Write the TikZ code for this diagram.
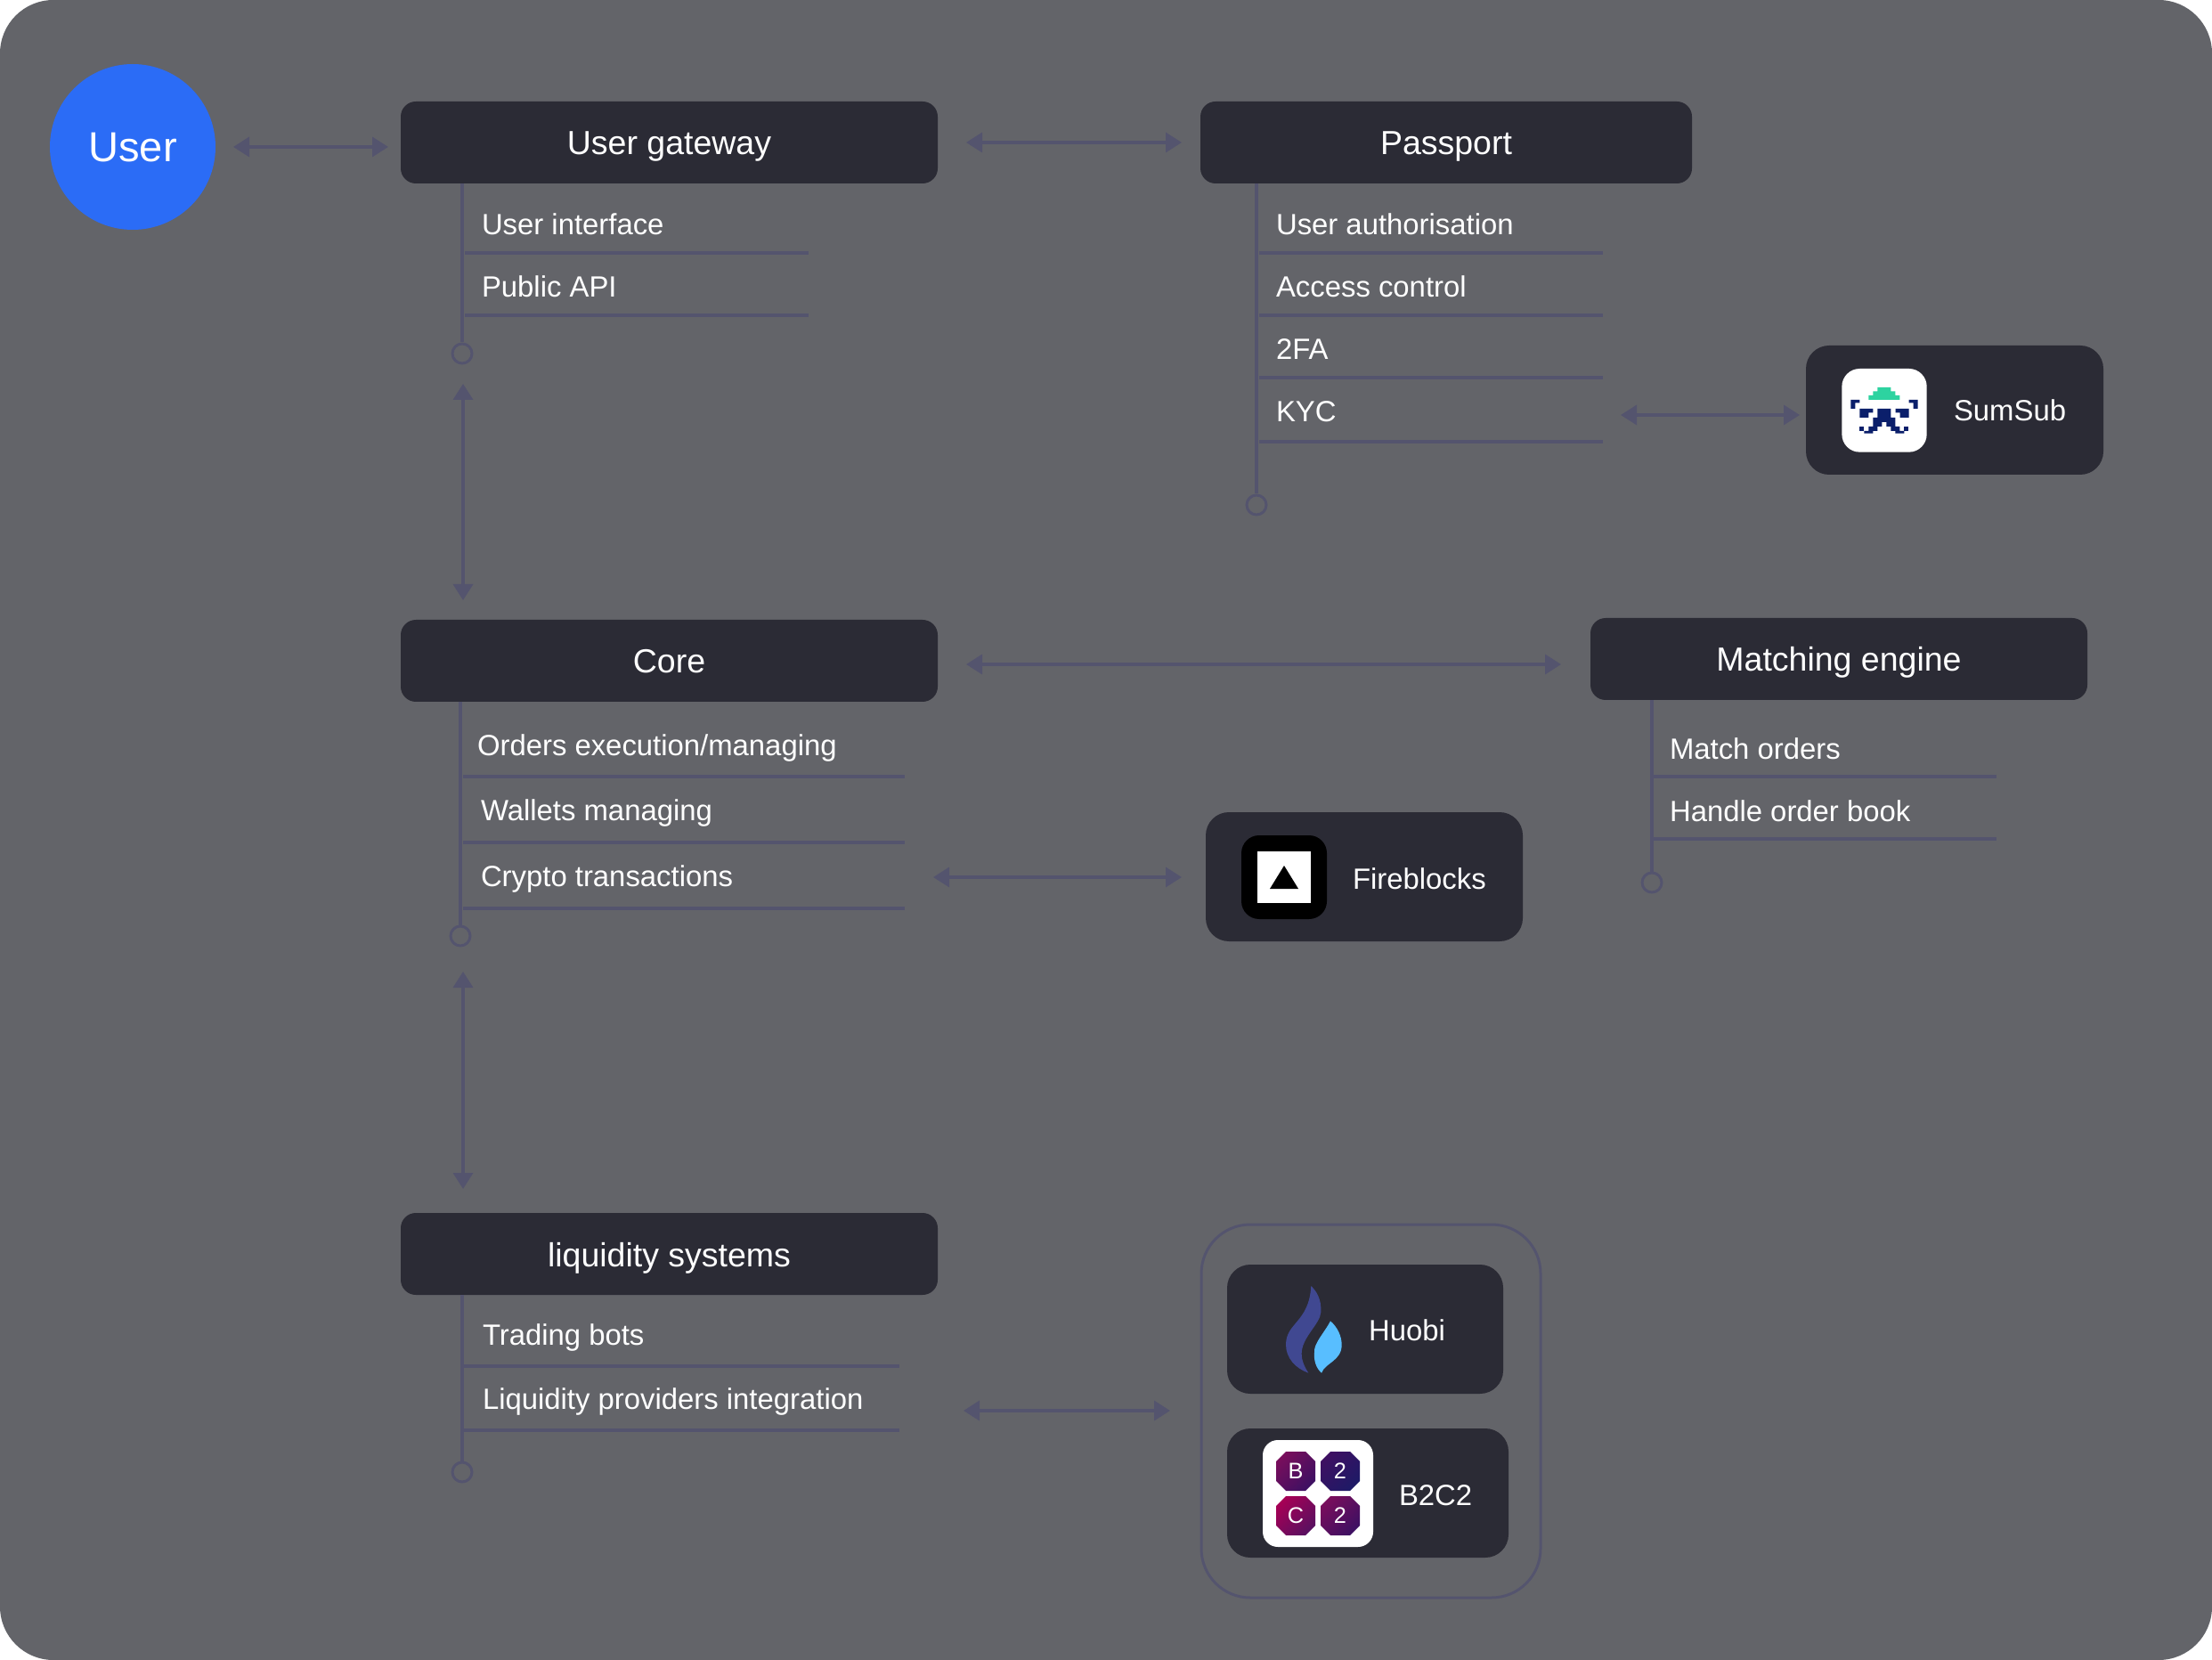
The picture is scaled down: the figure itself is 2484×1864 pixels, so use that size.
\documentclass[tikz,border=0pt]{standalone}
\usepackage{fontspec}
\setmainfont{Liberation Sans}
\usetikzlibrary{arrows.meta,calc,positioning}

\definecolor{canvasGrey}{HTML}{636469}
\definecolor{boxDark}{HTML}{2B2B35}
\definecolor{lineSlate}{HTML}{54546E}
\definecolor{userBlue}{HTML}{2B6CF6}
\definecolor{sumGreen}{HTML}{2DD3A0}
\definecolor{sumNavy}{HTML}{0B1F6B}
\definecolor{huobiDark}{HTML}{404891}
\definecolor{huobiLight}{HTML}{58BEFF}
\definecolor{tileRed}{HTML}{A50055}
\definecolor{tileMagenta}{HTML}{780E5C}
\definecolor{tilePlum}{HTML}{5A1060}
\definecolor{tileViolet}{HTML}{3E1062}
\definecolor{tileIndigo}{HTML}{1E1A66}

\begin{document}
\begin{tikzpicture}[x=0.1mm, y=-0.1mm, line cap=butt, line join=miter]
    \tikzset{
        titleBox/.style={rectangle, fill=boxDark, text=white, rounded corners=1.7mm, outer sep=0pt, inner sep=0pt,
            minimum height=9.2mm, text height=3.1mm, text depth=0.3mm, font=\fontsize{10.67pt}{12pt}\selectfont},
        logoBox/.style={rectangle, fill=boxDark, rounded corners=2.6mm, outer sep=0pt, inner sep=0pt, minimum height=14.5mm},
        groupBox/.style={rectangle, draw=lineSlate, line width=0.3mm, rounded corners=5.5mm, outer sep=0pt, inner sep=0pt},
        item/.style={anchor=base west, inner sep=0pt, outer sep=0pt, text=white, font=\fontsize{9.35pt}{11pt}\selectfont},
        userNode/.style={circle, fill=userBlue, text=white, minimum size=18.6mm, inner sep=0pt, outer sep=0pt,
            text height=3.3mm, text depth=0mm, font=\fontsize{13.4pt}{15pt}\selectfont},
        stemEnd/.style={circle, draw=lineSlate, line width=0.3mm, minimum size=2.2mm, inner sep=0pt},
        stem/.style={draw=lineSlate, line width=0.4mm},
        itemRule/.style={draw=lineSlate, line width=0.4mm},
        link/.style={draw=lineSlate, line width=0.35mm,
            {Triangle[length=1.8mm,width=2.2mm]}-{Triangle[length=1.8mm,width=2.2mm]}},
        tileText/.style={text=white, inner sep=0pt, font=\fontsize{7.2pt}{8pt}\selectfont}
    }

    \newcommand{\drawtile}[5]{%
        \shade[left color=#4, right color=#5, shading angle=45]
            (#1-11,#2-22) -- (#1+11,#2-22) -- (#1+22,#2-11) -- (#1+22,#2+11)
            -- (#1+11,#2+22) -- (#1-11,#2+22) -- (#1-22,#2+11) -- (#1-22,#2-11) -- cycle;
        \node[tileText] (tile#1#2) at (#1,#2) {#3};
    }

    % Canvas
    \fill[white] (0,0) rectangle (2484,1864);
    \useasboundingbox (0,0) rectangle (2484,1864);
    \fill[canvasGrey, rounded corners=6mm] (0,0) rectangle (2484,1864);

    % Main boxes
    \node[userNode] (user) at (149,165) {User};
    \node[titleBox, minimum width=60.3mm] (gateway) at (751.5,160) {User gateway};
    \node[titleBox, minimum width=55.2mm] (passport) at (1624,160) {Passport};
    \node[titleBox, minimum width=60.3mm] (core) at (751.5,742) {Core};
    \node[titleBox, minimum width=55.8mm] (matching) at (2065,740) {Matching engine};
    \node[titleBox, minimum width=60.3mm] (liquidity) at (751.5,1408) {liquidity systems};

    % Stem ends
    \node[stemEnd] (gatewayEnd) at (519,397) {};
    \node[stemEnd] (passportEnd) at (1411,567) {};
    \node[stemEnd] (coreEnd) at (517,1051) {};
    \node[stemEnd] (matchingEnd) at (1855,991) {};
    \node[stemEnd] (liquidityEnd) at (519,1653) {};

    % Stems
    \draw[stem] (gateway.south -| gatewayEnd.north) -- (gatewayEnd.north);
    \draw[stem] (passport.south -| passportEnd.north) -- (passportEnd.north);
    \draw[stem] (core.south -| coreEnd.north) -- (coreEnd.north);
    \draw[stem] (matching.south -| matchingEnd.north) -- (matchingEnd.north);
    \draw[stem] (liquidity.south -| liquidityEnd.north) -- (liquidityEnd.north);

    % Item lists
    \foreach \name/\txt/\base/\ruley in {itemUi/User interface/264/284, itemApi/Public API/334/354} {
        \node[item] (\name) at (541,\base) {\txt};
        \draw[itemRule] (522,\ruley) -- (908,\ruley);
    }
    \foreach \name/\txt/\base/\ruley in {itemAuth/User authorisation/264/284, itemAccess/Access control/334/354,
            itemTfa/2FA/404/424, itemKyc/KYC/474/496} {
        \node[item] (\name) at (1433,\base) {\txt};
        \draw[itemRule] (1414,\ruley) -- (1800,\ruley);
    }
    \foreach \name/\txt/\xpos/\base/\ruley in {itemOrders/Orders execution\slash managing/536/848/872,
            itemWallets/Wallets managing/540/921/946, itemCrypto/Crypto transactions/540/995/1020} {
        \node[item] (\name) at (\xpos,\base) {\txt};
        \draw[itemRule] (520,\ruley) -- (1016,\ruley);
    }
    \foreach \name/\txt/\base/\ruley in {itemMatch/Match orders/852/872, itemBook/Handle order book/922/942} {
        \node[item] (\name) at (1875,\base) {\txt};
        \draw[itemRule] (1857,\ruley) -- (2242,\ruley);
    }
    \foreach \name/\txt/\base/\ruley in {itemBots/Trading bots/1510/1534, itemLp/Liquidity providers integration/1582/1606} {
        \node[item] (\name) at (542,\base) {\txt};
        \draw[itemRule] (520,\ruley) -- (1010,\ruley);
    }

    % SumSub
    \node[logoBox, minimum width=33.4mm] (sumsub) at (2195,460.5) {};
    \begin{scope}[shift={(2000,370)}, scale=1/3]
        \fill[white, rounded corners=2mm] (205,132) rectangle (491,413);
        \fill[sumGreen] (295,237) -- (400,237) -- (400,222) -- (385,222) -- (385,208) -- (370,208) -- (370,195)
            -- (325,195) -- (325,208) -- (310,208) -- (310,222) -- (295,222) -- cycle;
        \fill[sumNavy] (235,237) -- (265,237) -- (265,247) -- (250,247) -- (250,267) -- (235,267) -- cycle;
        \fill[sumNavy] (461,237) -- (431,237) -- (431,247) -- (446,247) -- (446,267) -- (461,267) -- cycle;
        \fill[sumNavy] (265,267) -- (310,267) -- (310,280) -- (295,280) -- (295,297) -- (265,297) -- cycle;
        \fill[sumNavy] (431,267) -- (386,267) -- (386,280) -- (401,280) -- (401,297) -- (431,297) -- cycle;
        \fill[sumNavy] (325,267) -- (370,267) -- (370,297) -- (385,297) -- (385,327) -- (400,327) -- (400,342)
            -- (415,342) -- (415,350) -- (385,350) -- (385,342) -- (370,342) -- (370,327) -- (355,327) -- (355,312)
            -- (340,312) -- (340,327) -- (325,327) -- (325,342) -- (310,342) -- (310,350) -- (280,350) -- (280,342)
            -- (295,342) -- (295,327) -- (310,327) -- (310,297) -- (325,297) -- cycle;
        \fill[sumNavy] (265,327) rectangle (280,342);
        \fill[sumNavy] (415,327) rectangle (430,342);
    \end{scope}
    \node[item] (sumsubText) at (2194,473) {SumSub};

    % Fireblocks
    \node[logoBox, minimum width=35.6mm] (fireblocks) at (1532,984.5) {};
    \fill[black, rounded corners=2mm] (1394,938) rectangle (1490,1032);
    \fill[white] (1412,956) rectangle (1472,1014);
    \fill[black] (1442,972) -- (1458,998) -- (1426,998) -- cycle;
    \node[item] (fireblocksText) at (1519,998) {Fireblocks};

    % Exchanges group
    \node[groupBox, minimum width=38.1mm, minimum height=41.9mm] (exchanges) at (1539.5,1584.5) {};

    % Huobi
    \node[logoBox, minimum width=31mm] (huobi) at (1533,1492.5) {};
    \begin{scope}[shift={(1420,1430)}, scale=1/3]
        \fill[huobiDark] (157,42) .. controls (175,60) and (192,85) .. (190,130)
            .. controls (188,170) and (125,215) .. (125,270)
            .. controls (125,295) and (135,315) .. (148,335)
            .. controls (105,320) and (72,285) .. (72,240)
            .. controls (72,165) and (150,165) .. cycle;
        \fill[huobiLight] (222,160) .. controls (245,180) and (260,210) .. (260,240)
            .. controls (260,295) and (205,300) .. (192,335)
            .. controls (175,320) and (165,295) .. (168,265)
            .. controls (165,235) and (205,195) .. cycle;
    \end{scope}
    \node[item] (huobiText) at (1537,1505) {Huobi};

    % B2C2
    \node[logoBox, minimum width=31.6mm] (btwoc) at (1536,1676.5) {};
    \fill[white, rounded corners=1.7mm] (1418,1617) rectangle (1542,1737);
    \drawtile{1455}{1652}{B}{tileMagenta}{tileViolet}
    \drawtile{1505}{1652}{2}{tileViolet}{tileIndigo}
    \drawtile{1455}{1702}{C}{tileRed}{tilePlum}
    \drawtile{1505}{1702}{2}{tileMagenta}{tileViolet}
    \node[item] (btwocText) at (1571,1690) {B2C2};

    % Free ends of the links
    \coordinate (gatewayPort) at (520,397);
    \coordinate (kycPort) at (1800,466);
    \coordinate (corePort) at (1053,746);
    \coordinate (cryptoPort) at (1016,985);
    \coordinate (corePortDown) at (520,1051);
    \coordinate (liquidityPort) at (1010,1584);

    % Links
    \draw[link, shorten <=2mm, shorten >=1.4mm] (user.east) -- (user.east -| gateway.west);
    \draw[link, shorten <=3.2mm, shorten >=2.1mm] (gateway.east) -- (passport.west);
    \draw[link, shorten <=3.4mm, shorten >=2.2mm] (gatewayPort) -- (gatewayPort |- core.north);
    \draw[link, shorten <=2mm, shorten >=0.7mm] (kycPort) -- (kycPort -| sumsub.west);
    \draw[link, shorten <=3.2mm, shorten >=3.3mm] (corePort) -- (corePort -| matching.west);
    \draw[link, shorten <=3.2mm, shorten >=2.7mm] (cryptoPort) -- (cryptoPort -| fireblocks.west);
    \draw[link, shorten <=4mm, shorten >=2.7mm] (corePortDown) -- (corePortDown |- liquidity.north);
    \draw[link, shorten <=7.2mm, shorten >=3.5mm] (liquidityPort) -- (liquidityPort -| exchanges.west);
\end{tikzpicture}
\end{document}
